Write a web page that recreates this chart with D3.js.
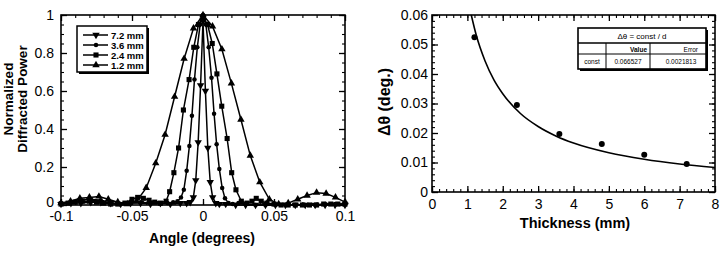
<!DOCTYPE html>
<html>
<head>
<meta charset="utf-8">
<script src="https://cdn.jsdelivr.net/npm/d3@7"></script>
<style>
  body { margin: 0; background: #fff; }
  text { font-family: "Liberation Sans", Arial, Helvetica, sans-serif; fill: #000; }
</style>
</head>
<body>
<svg id="chart" width="726" height="255"></svg>
<script>
// ---- left panel: normalized diffracted power vs angle ----
const angle72 = [-0.1,-0.093,-0.086,-0.079,-0.072,-0.065,-0.058,-0.051,-0.044,-0.037,-0.03,-0.023,-0.016,-0.0115,-0.009,-0.0068,-0.0051,-0.0034,-0.0017,0,0.0017,0.0034,0.0051,0.0068,0.009,0.0115,0.016,0.023,0.03,0.037,0.044,0.051,0.058,0.065,0.072,0.079,0.086,0.093,0.1];
const power72 = [0.005,0.01,0.01,0.015,0.015,0.01,0.005,0.01,0.01,0.005,0.01,0.005,0.01,0.01,0.015,0.04,0.13,0.33,0.63,0.97,0.6,0.3,0.12,0.04,0.01,0.005,0.005,0,0,0,0,0,0,0,0,0,0,0,0];

const angle36 = [-0.1,-0.093,-0.086,-0.079,-0.072,-0.065,-0.058,-0.051,-0.044,-0.037,-0.03,-0.025,-0.021,-0.018,-0.0155,-0.0135,-0.0115,-0.0096,-0.0078,-0.006,-0.004,-0.002,0,0.002,0.004,0.006,0.0078,0.0096,0.0115,0.0135,0.0155,0.018,0.021,0.025,0.03,0.037,0.044,0.051,0.058,0.065,0.072,0.079,0.086,0.093,0.1];
const power36 = [0.01,0.015,0.025,0.03,0.025,0.01,0.005,0.01,0.015,0.01,0.005,0.01,0.015,0.02,0.04,0.08,0.18,0.31,0.47,0.66,0.83,0.95,1.0,0.95,0.83,0.67,0.48,0.32,0.19,0.09,0.035,0.01,0.005,0.01,0.005,0,0,0,0,0,0,0,0.005,0.005,0.005];

const angle24 = [-0.1,-0.095,-0.09,-0.085,-0.08,-0.075,-0.07,-0.065,-0.06,-0.055,-0.05,-0.046,-0.042,-0.038,-0.034,-0.03,-0.026,-0.0235,-0.0205,-0.0172,-0.0138,-0.0098,-0.0065,-0.0032,0,0.0032,0.0065,0.0098,0.0132,0.017,0.0202,0.0232,0.027,0.031,0.0345,0.0375,0.041,0.045,0.05,0.055,0.06,0.065,0.07,0.075,0.08,0.085,0.09,0.095,0.1];
const power24 = [0.005,0.01,0.015,0.02,0.02,0.015,0.01,0.005,0.005,0.01,0.03,0.04,0.035,0.025,0.015,0.01,0.02,0.07,0.17,0.3,0.5,0.66,0.83,0.95,0.99,0.95,0.85,0.69,0.52,0.35,0.17,0.08,0.02,0.01,0.02,0.035,0.02,0.01,0.005,0,0,0,0,0,0,0.005,0.005,0.005,0.005];

const angle12 = [-0.1,-0.0933,-0.0867,-0.08,-0.0733,-0.0667,-0.06,-0.0533,-0.0467,-0.04,-0.0333,-0.0267,-0.02,-0.0133,-0.0067,0,0.0067,0.0133,0.02,0.0267,0.0333,0.04,0.0467,0.0533,0.06,0.0667,0.0733,0.08,0.0867,0.0933,0.1];
const power12 = [0.01,0.02,0.035,0.04,0.045,0.03,0.015,0.005,0.02,0.09,0.22,0.37,0.57,0.77,0.93,1.0,0.94,0.82,0.64,0.45,0.26,0.12,0.03,0.005,0.01,0.03,0.05,0.065,0.06,0.04,0.015];

const seriesLabels = ["7.2 mm", "3.6 mm", "2.4 mm", "1.2 mm"];
const angleTicks = [-0.1, -0.05, 0, 0.05, 0.1];
const powerTicks = [0, 0.2, 0.4, 0.6, 0.8, 1];

// ---- right panel: width vs thickness ----
const thickness = [1.2, 2.4, 3.6, 4.8, 6.0, 7.2];
const deltaTheta = [0.0525, 0.0295, 0.0197, 0.0163, 0.0126, 0.0095];
const thickFit = [1.11, 1.25, 1.5, 1.75, 2, 2.5, 3, 3.5, 4, 5, 6, 7, 8];
const deltaFit = [0.06, 0.0532, 0.0444, 0.038, 0.0333, 0.0266, 0.0222, 0.019, 0.0166, 0.0133, 0.0111, 0.0095, 0.0083];
const thickTicks = [0, 1, 2, 3, 4, 5, 6, 7, 8];
const deltaTicks = [0, 0.01, 0.02, 0.03, 0.04, 0.05, 0.06];
const fitTable = { title: "Δθ  = const / d", param: "const", value: "0.066527", error: "0.0021813" };

const svg = d3.select("#chart");

// 画框和刻度（刻度朝内，四边都有）
function drawFrame(x, y, xTicks, yTicks, xMinor, yMinor, xFmt, yFmt, xPad, yPad) {
  const [x0, x1] = x.range();
  const [y0, y1] = y.range();
  const g = svg.append("g");

  const axes = [
    { ax: d3.axisBottom(x), t: `translate(0,${y0})`, vals: xTicks, minor: xMinor, fmt: xFmt, pad: xPad, cls: "xlab" },
    { ax: d3.axisTop(x), t: `translate(0,${y1})`, vals: xTicks, minor: xMinor, fmt: null },
    { ax: d3.axisLeft(y), t: `translate(${x0},0)`, vals: yTicks, minor: yMinor, fmt: yFmt, pad: yPad, cls: "ylab" },
    { ax: d3.axisRight(y), t: `translate(${x1},0)`, vals: yTicks, minor: yMinor, fmt: null }
  ];
  axes.forEach(a => {
    const major = g.append("g").attr("transform", a.t).attr("class", a.cls || null)
      .call(a.ax.tickValues(a.vals).tickSize(-6).tickPadding(a.pad || 3)
        .tickFormat(a.fmt ? a.fmt : () => ""));
    major.select(".domain").remove();
    major.selectAll("line").attr("stroke", "#000").attr("stroke-width", 1.3);
    major.selectAll("text").attr("font-size", 14).attr("font-family", null);

    const minor = g.append("g").attr("transform", a.t)
      .call(a.ax.tickValues(a.minor).tickSize(-3).tickFormat(() => ""));
    minor.select(".domain").remove();
    minor.selectAll("line").attr("stroke", "#000").attr("stroke-width", 1.1);
  });

  g.append("rect")
    .attr("x", x0).attr("y", y1)
    .attr("width", x1 - x0).attr("height", y0 - y1)
    .attr("fill", "none").attr("stroke", "#000").attr("stroke-width", 1.6);
  return g;
}

function marker(shape) {
  if (shape === "circle") return d3.symbol().type(d3.symbolCircle).size(16)();
  if (shape === "square") return d3.symbol().type(d3.symbolSquare).size(26)();
  return d3.symbol().type(d3.symbolTriangle).size(24)();
}

// ===== 左图 =====
const xA = d3.scaleLinear().domain([-0.1, 0.1]).range([61, 345]);
const yA = d3.scaleLinear().domain([0, 1]).range([205, 15]);

const angleMinor = d3.range(-10, 11).map(d => d / 100);
const powerMinor = d3.range(0, 21).map(d => d / 20);
const frameA = drawFrame(xA, yA, angleTicks, powerTicks, angleMinor, powerMinor,
  d => d === 0 ? "0" : String(d), d => d === 0 ? "0" : String(d), 6, 7);
// y 轴的 0 稍微上移，避免和 -0.1 挤在一起
frameA.select(".ylab").selectAll("text").filter(d => d === 0).attr("dy", "0.12em");

const series = [
  { label: seriesLabels[0], x: angle72, y: power72, shape: "down" },
  { label: seriesLabels[1], x: angle36, y: power36, shape: "circle" },
  { label: seriesLabels[2], x: angle24, y: power24, shape: "square" },
  { label: seriesLabels[3], x: angle12, y: power12, shape: "up" }
];

const line = d3.line().x(d => xA(d[0])).y(d => yA(d[1]));

series.forEach(s => {
  const pts = s.x.map((v, i) => [v, s.y[i]]);
  svg.append("path")
    .attr("d", line(pts))
    .attr("fill", "none")
    .attr("stroke", "#000")
    .attr("stroke-width", 1.5);
  svg.selectAll(null)
    .data(pts)
    .enter()
    .append("path")
    .attr("d", marker(s.shape))
    .attr("transform", d => `translate(${xA(d[0])},${yA(d[1])})${s.shape === "down" ? " rotate(180)" : ""}`)
    .attr("fill", "#000");
});

// 图例
const legend = svg.append("g");
legend.append("rect").attr("x", 79).attr("y", 28).attr("width", 70).attr("height", 46).attr("fill", "#000");
legend.append("rect").attr("x", 77).attr("y", 26).attr("width", 70).attr("height", 46)
  .attr("fill", "#fff").attr("stroke", "#000").attr("stroke-width", 1.5);

series.forEach((s, i) => {
  const ly = 35 + i * 10;
  legend.append("line")
    .attr("x1", 83).attr("x2", 108).attr("y1", ly).attr("y2", ly)
    .attr("stroke", "#000").attr("stroke-width", 1.5);
  legend.append("path")
    .attr("d", marker(s.shape))
    .attr("transform", `translate(96,${ly})${s.shape === "down" ? " rotate(180)" : ""}`)
    .attr("fill", "#000");
  legend.append("text")
    .attr("x", 111).attr("y", ly + 3.5)
    .attr("font-size", 9.5).attr("font-weight", "bold")
    .text(s.label);
});

// 轴标题
svg.append("text")
  .attr("x", 202).attr("y", 243)
  .attr("text-anchor", "middle")
  .attr("font-size", 14).attr("font-weight", "bold")
  .text("Angle (degrees)");

svg.append("text")
  .attr("transform", "translate(13,99) rotate(-90)")
  .attr("text-anchor", "middle")
  .attr("font-size", 13.5).attr("font-weight", "bold")
  .text("Normalized");
svg.append("text")
  .attr("transform", "translate(27,99) rotate(-90)")
  .attr("text-anchor", "middle")
  .attr("font-size", 13.5).attr("font-weight", "bold")
  .text("Diffracted Power");

// ===== 右图 =====
const xT = d3.scaleLinear().domain([0, 8]).range([432, 715]);
const yT = d3.scaleLinear().domain([0, 0.06]).range([192, 15]);

const thickMinor = d3.range(0, 41).map(d => d / 5);
const deltaMinor = d3.range(0, 31).map(d => d / 500);
drawFrame(xT, yT, thickTicks, deltaTicks, thickMinor, deltaMinor,
  d => String(d), d => d === 0 ? "0" : d3.format(".2f")(d), 7, 4);

svg.append("path")
  .datum(thickFit.map((v, i) => [v, deltaFit[i]]))
  .attr("d", d3.line().x(d => xT(d[0])).y(d => yT(d[1])).curve(d3.curveMonotoneX))
  .attr("fill", "none")
  .attr("stroke", "#000")
  .attr("stroke-width", 1.6);

svg.selectAll(".pt")
  .data(thickness.map((v, i) => [v, deltaTheta[i]]))
  .enter()
  .append("circle")
  .attr("class", "pt")
  .attr("cx", d => xT(d[0]))
  .attr("cy", d => yT(d[1]))
  .attr("r", 3)
  .attr("fill", "#000");

// 拟合结果表格
const tb = svg.append("g");
tb.append("rect").attr("x", 580).attr("y", 30).attr("width", 128).attr("height", 41).attr("fill", "#000");
tb.append("rect").attr("x", 578).attr("y", 28).attr("width", 128).attr("height", 41)
  .attr("fill", "#fff").attr("stroke", "#000").attr("stroke-width", 1.6);
tb.append("line").attr("x1", 578).attr("x2", 706).attr("y1", 43).attr("y2", 43).attr("stroke", "#000").attr("stroke-width", 1.3);
tb.append("line").attr("x1", 578).attr("x2", 706).attr("y1", 54).attr("y2", 54).attr("stroke", "#000").attr("stroke-width", 1);
tb.append("line").attr("x1", 606).attr("x2", 606).attr("y1", 43).attr("y2", 69).attr("stroke", "#000").attr("stroke-width", 1);
tb.append("line").attr("x1", 650).attr("x2", 650).attr("y1", 43).attr("y2", 69).attr("stroke", "#000").attr("stroke-width", 1);
tb.append("text").attr("x", 642).attr("y", 38.5).attr("text-anchor", "middle").attr("font-size", 8).text(fitTable.title);
tb.append("text").attr("x", 647).attr("y", 51.5).attr("text-anchor", "end").attr("font-size", 6.5).attr("font-weight", "bold").text("Value");
tb.append("text").attr("x", 698).attr("y", 51.5).attr("text-anchor", "end").attr("font-size", 6.5).text("Error");
tb.append("text").attr("x", 592).attr("y", 64).attr("text-anchor", "middle").attr("font-size", 6.5).text(fitTable.param);
tb.append("text").attr("x", 628).attr("y", 64).attr("text-anchor", "middle").attr("font-size", 6.5).text(fitTable.value);
tb.append("text").attr("x", 681).attr("y", 64).attr("text-anchor", "middle").attr("font-size", 6.5).text(fitTable.error);

// 轴标题
svg.append("text")
  .attr("x", 575).attr("y", 228)
  .attr("text-anchor", "middle")
  .attr("font-size", 14.5).attr("font-weight", "bold")
  .text("Thickness (mm)");

svg.append("text")
  .attr("transform", "translate(390,102) rotate(-90)")
  .attr("text-anchor", "middle")
  .attr("font-size", 16).attr("font-weight", "bold")
  .text("Δθ  (deg.)");
</script>
</body>
</html>
